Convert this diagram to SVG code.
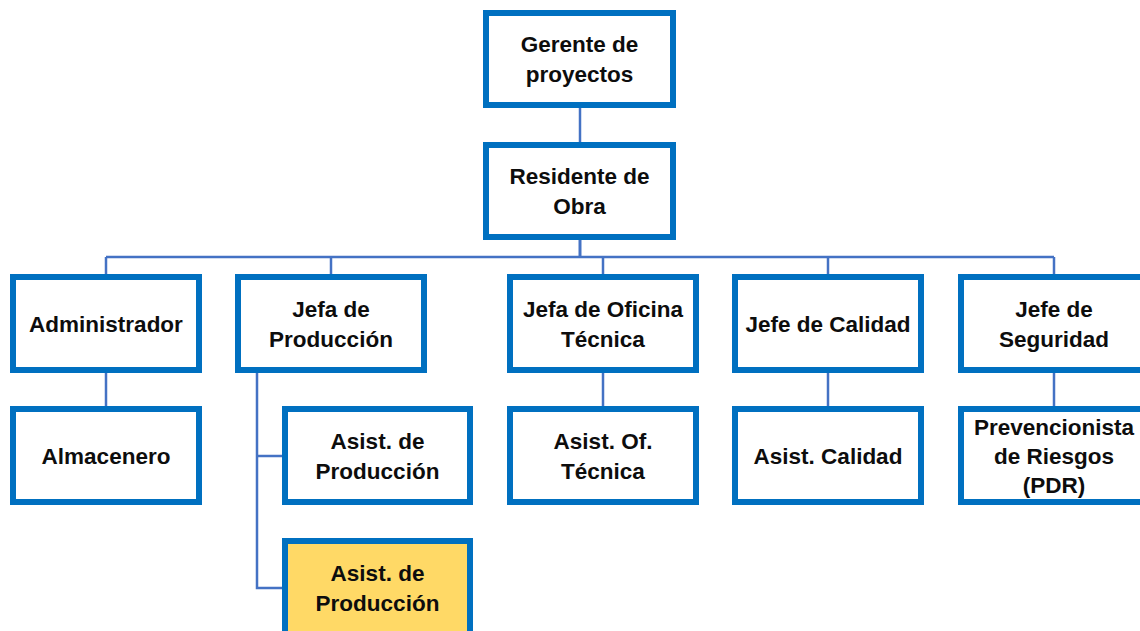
<svg xmlns="http://www.w3.org/2000/svg" width="1140" height="631" viewBox="0 0 1140 631">
<style>
.box{fill:#FFFFFF;stroke:#0070C0;stroke-width:6}
.hl{fill:#FFD966}
.t{font-family:"Liberation Sans",Arial,sans-serif;font-weight:bold;font-size:22.5px;fill:#0D0D0D;text-anchor:middle}
.c{stroke:#4472C4;stroke-width:2.5;fill:none}
</style>
<rect width="1140" height="631" fill="#FFFFFF"/>
<g id="connectors">
<line class="c" x1="580" y1="108" x2="580" y2="142"/>
<line class="c" x1="580" y1="240" x2="580" y2="257" style="stroke-width:3"/>
<line class="c" x1="106" y1="257" x2="1054" y2="257"/>
<line class="c" x1="106" y1="257" x2="106" y2="274"/>
<line class="c" x1="331" y1="257" x2="331" y2="274"/>
<line class="c" x1="603" y1="257" x2="603" y2="274"/>
<line class="c" x1="828" y1="257" x2="828" y2="274"/>
<line class="c" x1="1054" y1="257" x2="1054" y2="274"/>
<line class="c" x1="106" y1="373" x2="106" y2="406"/>
<line class="c" x1="603" y1="373" x2="603" y2="406"/>
<line class="c" x1="828" y1="373" x2="828" y2="406"/>
<line class="c" x1="1054" y1="373" x2="1054" y2="406"/>
<polyline class="c" points="257,373 257,588 282,588"/>
<line class="c" x1="257" y1="456" x2="282" y2="456"/>
</g>
<g id="gerente">
<rect class="box" x="486" y="13" width="187" height="92"/>
<text class="t" x="579.5" y="52">Gerente de</text>
<text class="t" x="579.5" y="82">proyectos</text>
</g>
<g id="residente">
<rect class="box" x="486" y="145" width="187" height="92"/>
<text class="t" x="579.5" y="184">Residente de</text>
<text class="t" x="579.5" y="214">Obra</text>
</g>
<g id="administrador">
<rect class="box" x="13" y="277" width="186" height="93"/>
<text class="t" x="106" y="331.5">Administrador</text>
</g>
<g id="jefa-produccion">
<rect class="box" x="238" y="277" width="186" height="93"/>
<text class="t" x="331" y="316.5">Jefa de</text>
<text class="t" x="331" y="346.5">Producción</text>
</g>
<g id="jefa-oficina">
<rect class="box" x="510" y="277" width="186" height="93"/>
<text class="t" x="603" y="316.5">Jefa de Oficina</text>
<text class="t" x="603" y="346.5">Técnica</text>
</g>
<g id="jefe-calidad">
<rect class="box" x="735" y="277" width="186" height="93"/>
<text class="t" x="828" y="331.5">Jefe de Calidad</text>
</g>
<g id="jefe-seguridad">
<rect class="box" x="961" y="277" width="186" height="93"/>
<text class="t" x="1054" y="316.5">Jefe de</text>
<text class="t" x="1054" y="346.5">Seguridad</text>
</g>
<g id="almacenero">
<rect class="box" x="13" y="409" width="186" height="93"/>
<text class="t" x="106" y="463.5">Almacenero</text>
</g>
<g id="asist-produccion-1">
<rect class="box" x="285" y="409" width="185" height="93"/>
<text class="t" x="377.5" y="448.5">Asist. de</text>
<text class="t" x="377.5" y="478.5">Producción</text>
</g>
<g id="asist-oficina">
<rect class="box" x="510" y="409" width="186" height="93"/>
<text class="t" x="603" y="448.5">Asist. Of.</text>
<text class="t" x="603" y="478.5">Técnica</text>
</g>
<g id="asist-calidad">
<rect class="box" x="735" y="409" width="186" height="93"/>
<text class="t" x="828" y="463.5">Asist. Calidad</text>
</g>
<g id="prevencionista">
<rect class="box" x="961" y="409" width="186" height="93"/>
<text class="t" x="1054" y="434.5">Prevencionista</text>
<text class="t" x="1054" y="463.5">de Riesgos</text>
<text class="t" x="1054" y="492.5">(PDR)</text>
</g>
<g id="asist-produccion-2">
<rect class="box hl" x="285" y="541" width="185" height="93"/>
<text class="t" x="377.5" y="580.5">Asist. de</text>
<text class="t" x="377.5" y="610.5">Producción</text>
</g>
</svg>
